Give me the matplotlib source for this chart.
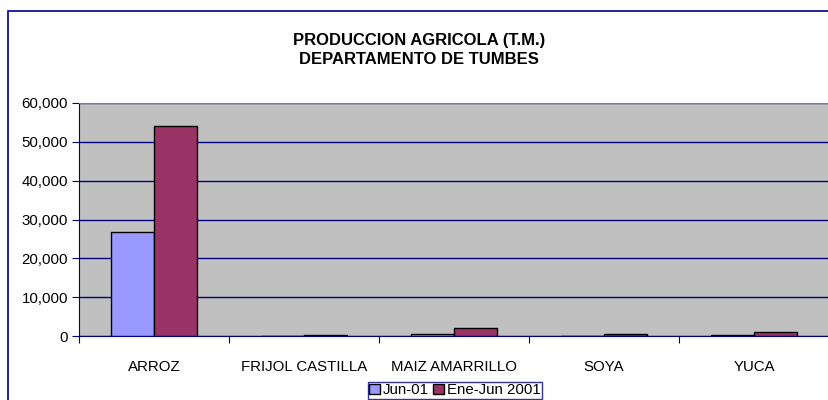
import numpy as np
import matplotlib.pyplot as plt
from matplotlib.patches import Rectangle
from matplotlib.ticker import FuncFormatter

plt.rcParams['font.family'] = ['Liberation Sans', 'DejaVu Sans']

categorias = ['ARROZ', 'FRIJOL CASTILLA', 'MAIZ AMARRILLO', 'SOYA', 'YUCA']
jun_01 = [26700, 30, 500, 20, 250]
ene_jun_2001 = [54000, 250, 2100, 400, 950]
series = ['Jun-01', 'Ene-Jun 2001']

fig = plt.figure(figsize=(8.29, 4.0), dpi=100)
# chart border (navy, cut off right/bottom like the original)
fig.patches.append(Rectangle((8.5 / 829, -0.1), 1.2, 1 - 10.5 / 400 + 0.1,
                             transform=fig.transFigure, fill=False,
                             edgecolor='#000080', linewidth=1.2))

ax = fig.add_axes([79 / 829, 64 / 400, 750 / 829, 233 / 400])
ax.set_facecolor('#C0C0C0')

x = np.arange(len(categorias))
w = 0.287
ax.bar(x - w / 2, jun_01, w, color='#9999FF', edgecolor='black', linewidth=1, label=series[0], zorder=3)
ax.bar(x + w / 2, ene_jun_2001, w, color='#993366', edgecolor='black', linewidth=1, label=series[1], zorder=3)

ax.set_xlim(-0.5, len(categorias) - 0.5)
ax.set_ylim(0, 60000)
ax.set_yticks(np.arange(0, 60001, 10000))
ax.yaxis.set_major_formatter(FuncFormatter(lambda v, p: f'{int(v):,}'))
ax.grid(axis='y', color='#000080', linewidth=1, zorder=1)
ax.set_axisbelow(True)

ax.set_xticks(np.arange(-0.5, len(categorias), 1.0))
ax.set_xticklabels([])
ax.set_xticks(x, minor=True)
ax.set_xticklabels(categorias, minor=True)
ax.tick_params(axis='x', which='minor', length=0, pad=17, labelsize=10.8)
ax.tick_params(axis='x', which='major', length=5, color='#000080', direction='out')
ax.tick_params(axis='y', length=5, color='#000080', labelsize=10.8, pad=3)

for s in ['left', 'bottom']:
    ax.spines[s].set_color('#000080')
ax.spines['top'].set_color('#808080')
ax.spines['right'].set_visible(False)

fig.text(419 / 829, 1 - 40 / 400, 'PRODUCCION AGRICOLA (T.M.)', ha='center', va='center',
         fontsize=12, fontweight='bold')
fig.text(419 / 829, 1 - 59 / 400, 'DEPARTAMENTO DE TUMBES', ha='center', va='center',
         fontsize=12, fontweight='bold')

leg = fig.legend(loc='center', bbox_to_anchor=(455 / 829, 1 - 390 / 400), ncol=2,
                 frameon=True, fancybox=False, fontsize=10.8, handlelength=0.7,
                 handleheight=0.7, handletextpad=0.2, columnspacing=0.3,
                 borderpad=0.1, borderaxespad=0)
leg.get_frame().set_edgecolor('#000080')
leg.get_frame().set_linewidth(1)

fig.savefig('out.png', dpi=100)
